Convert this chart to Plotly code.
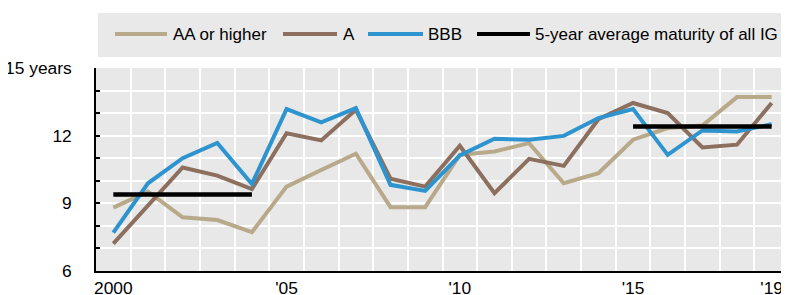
import plotly.graph_objects as go

years = list(range(2000, 2020))
aa_or_higher = [8.81, 9.52, 8.38, 8.26, 7.72, 9.74, 10.48, 11.20, 8.83, 8.83,
                11.15, 11.30, 11.67, 9.89, 10.34, 11.82, 12.34, 12.45, 13.71, 13.71]
a_rated = [7.21, 8.90, 10.59, 10.23, 9.63, 12.11, 11.79, 13.15, 10.09, 9.74,
           11.55, 9.45, 10.97, 10.66, 12.73, 13.45, 13.00, 11.48, 11.60, 13.45]
bbb = [7.70, 9.89, 11.00, 11.68, 9.86, 13.18, 12.59, 13.22, 9.82, 9.55,
       11.12, 11.86, 11.82, 11.99, 12.78, 13.18, 11.15, 12.23, 12.19, 12.51]
avg_x = [2000, 2004, None, 2015, 2019]
avg_y = [9.39, 9.39, None, 12.41, 12.41]

x_tickvals = [2000, 2005, 2010, 2015, 2019]
x_ticktext = ["2000", "'05", "'10", "'15", "'19"]
y_tickvals = [6, 9, 12, 15]
y_ticktext = ["6", "9", "12", "15 years"]

series_names = ["AA or higher", "A", "BBB", "5-year average maturity of all IG"]
colors = ["#b8a98a", "#8c6f5e", "#2e94cf", "#000000"]

FONT = "Liberation Sans, Arial, sans-serif"
FS = 17.4
LFS = 17
# page body has an 8px margin; figure is sized so its visible area matches the window
OFF = 8
W, H = 789 - OFF, 295 - OFF
ML, MR, MT, MB = 96 - OFF, 0, 68 - OFF, 24
PW, PH = W - ML - MR, H - MT - MB

fig = go.Figure()
for name, ys, col in zip(series_names[:3], [aa_or_higher, a_rated, bbb], colors[:3]):
    fig.add_trace(go.Scatter(x=years, y=ys, mode="lines", name=name,
                             line=dict(color=col, width=4), showlegend=False))
fig.add_trace(go.Scatter(x=avg_x, y=avg_y, mode="lines", name=series_names[3],
                         line=dict(color=colors[3], width=4.5), showlegend=False,
                         connectgaps=False))

def px_x(p):
    return (p - OFF - ML) / PW

def px_y(p):
    return (H - MB - (p - OFF)) / PH

shapes = [dict(type="rect", xref="paper", yref="paper",
               x0=px_x(98), x1=px_x(789), y0=px_y(57), y1=px_y(13),
               fillcolor="#e9e9e9", line=dict(width=0), layer="below")]
annotations = []
legend_items = [(115, 167, 171), (283, 337, 341), (368, 423, 426), (477, 530, 533)]
ly = px_y(34)
for (x0, x1, tx), name, col in zip(legend_items, series_names, colors):
    shapes.append(dict(type="line", xref="paper", yref="paper",
                       x0=px_x(x0), x1=px_x(x1), y0=ly, y1=ly,
                       line=dict(color=col, width=4)))
    annotations.append(dict(xref="paper", yref="paper", x=px_x(tx), y=ly,
                            xanchor="left", yanchor="middle", text=name,
                            showarrow=False, font=dict(family=FONT, size=LFS, color="#000")))

fig.update_layout(
    width=W, height=H,
    margin=dict(l=ML, r=MR, t=MT, b=MB, pad=0, autoexpand=False),
    paper_bgcolor="white", plot_bgcolor="#e8e8e8",
    font=dict(family=FONT, size=FS, color="#000"),
    shapes=shapes, annotations=annotations, showlegend=False,
    xaxis=dict(range=[1999.5, 2019.5], tickmode="array", tickvals=x_tickvals,
               ticktext=x_ticktext, showgrid=False, zeroline=False, automargin=False,
               showline=True, linecolor="#000", linewidth=2, ticks="",
               ticklabelstandoff=0,
               minor=dict(tickmode="linear", tick0=1999.5, dtick=1, showgrid=True,
                          gridcolor="white", gridwidth=1.5, ticks="")),
    yaxis=dict(range=[6, 15], tickmode="array", tickvals=y_tickvals,
               ticktext=y_ticktext, showgrid=True, gridcolor="white", gridwidth=1.5,
               zeroline=False, showline=True, linecolor="#000", linewidth=1.5,
               ticks="inside", ticklen=4, tickcolor="#000", tickwidth=1.5,
               ticklabelstandoff=19, automargin=False,
               minor=dict(tickmode="linear", tick0=6, dtick=1, showgrid=True,
                          gridcolor="white", gridwidth=1.5, ticks="inside",
                          ticklen=4, tickcolor="#000", tickwidth=1.5)),
)

fig.write_html("out.html")
